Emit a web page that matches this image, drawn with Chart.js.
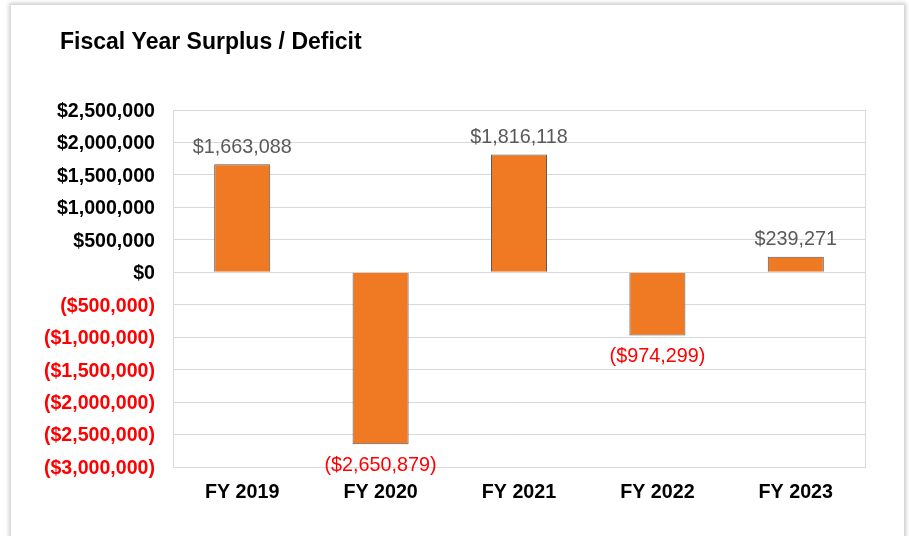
<!DOCTYPE html>
<html>
<head>
<meta charset="utf-8">
<script src="https://cdn.jsdelivr.net/npm/chart.js@4.4.0/dist/chart.umd.min.js"></script>
<style>
  html, body { margin: 0; padding: 0; background: #ffffff; width: 909px; height: 536px; overflow: hidden; }
  #frame { position: absolute; left: 11px; top: 5px; width: 893px; height: 600px; background: #fff;
           box-shadow: 0 0 4px 2px rgba(0,0,0,0.2); }
  #wrap { position: absolute; left: 0; top: 0; width: 909px; height: 536px; }
</style>
</head>
<body>
<div id="frame"></div>
<div id="wrap"><canvas id="c" width="909" height="536"></canvas></div>
<script>
const categories = ["FY 2019", "FY 2020", "FY 2021", "FY 2022", "FY 2023"];
const surplusValues = [1663088, -2650879, 1816118, -974299, 239271];
const chartTitle = "Fiscal Year Surplus / Deficit";
const yMin = -3000000, yMax = 2500000, yStep = 500000;

function fmtMoney(v) {
  const s = "$" + Math.abs(Math.round(v)).toLocaleString("en-US");
  return v < 0 ? "(" + s + ")" : s;
}

const RED = "#FF0000";
const FONT = "'Liberation Sans', Arial, sans-serif";

const boxAndLabels = {
  id: "boxAndLabels",
  beforeDatasetsDraw(chart) {
    const a = chart.chartArea, ctx = chart.ctx;
    ctx.save();
    ctx.strokeStyle = "#d9d9d9";
    ctx.lineWidth = 1;
    ctx.strokeRect(Math.round(a.left) + 0.5, Math.round(a.top) + 0.5, Math.round(a.right - a.left), Math.round(a.bottom - a.top));
    ctx.restore();
  },
  afterDatasetsDraw(chart) {
    const ctx = chart.ctx;
    const meta = chart.getDatasetMeta(0);
    ctx.save();
    ctx.font = "19.8px " + FONT;
    ctx.textAlign = "center";
    ctx.textBaseline = "middle";
    meta.data.forEach((bar, i) => {
      const v = surplusValues[i];
      if (v >= 0) {
        ctx.fillStyle = "#595959";
        ctx.fillText(fmtMoney(v), bar.x, bar.y - 17);
      } else {
        ctx.fillStyle = RED;
        ctx.fillText(fmtMoney(v), bar.x, bar.y + 21);
      }
    });
    ctx.restore();
  },
  afterDraw(chart) {
    const ctx = chart.ctx;
    ctx.save();
    ctx.font = "bold 23px " + FONT;
    ctx.fillStyle = "#000";
    ctx.textAlign = "left";
    ctx.textBaseline = "middle";
    ctx.fillText(chartTitle, 60, 42.5);
    ctx.restore();
  }
};

new Chart(document.getElementById("c"), {
  type: "bar",
  data: {
    labels: categories,
    datasets: [{
      data: surplusValues,
      backgroundColor: "#F07A24",
      borderColor: "#5a5a5a",
      borderWidth: 1,
      barPercentage: 0.405,
      categoryPercentage: 1.0
    }]
  },
  options: {
    responsive: false,
    animation: false,
    events: [],
    layout: { padding: { left: 0, right: 44, top: 110, bottom: 0 } },
    plugins: { legend: { display: false }, tooltip: { enabled: false }, title: { display: false } },
    scales: {
      x: {
        grid: { display: false, drawTicks: false },
        border: { display: false },
        ticks: { color: "#000", font: { family: FONT, size: 19.7, weight: "bold" }, padding: 14 },
        afterFit(scale) { scale.height = 69; }
      },
      y: {
        min: yMin, max: yMax,
        grid: { color: "#d9d9d9", drawTicks: false },
        border: { color: "#d9d9d9" },
        ticks: {
          stepSize: yStep,
          padding: 18,
          labelOffset: 1.5,
          font: { family: FONT, size: 19.6, weight: "bold" },
          color: (c) => (c.tick && c.tick.value < 0 ? RED : "#000"),
          callback: (v) => fmtMoney(v)
        },
        afterFit(scale) { scale.width = 173; }
      }
    }
  },
  plugins: [boxAndLabels]
});
</script>
</body>
</html>
